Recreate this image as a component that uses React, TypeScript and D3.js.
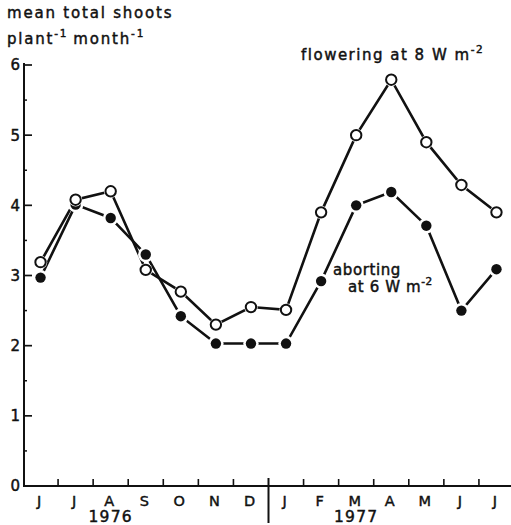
import React from "react";
import * as d3 from "d3";

const months = ["J", "J", "A", "S", "O", "N", "D", "J", "F", "M", "A", "M", "J", "J"];
const years = [
  { label: "1976", from: 0, to: 6 },
  { label: "1977", from: 7, to: 13 },
];
const flowering = [3.19, 4.08, 4.2, 3.08, 2.77, 2.3, 2.55, 2.51, 3.9, 5.0, 5.79, 4.9, 4.29, 3.9];
const aborting = [2.97, 4.01, 3.82, 3.3, 2.42, 2.03, 2.03, 2.03, 2.92, 4.0, 4.19, 3.71, 2.5, 3.09];
const yTicks = [0, 1, 2, 3, 4, 5, 6];
const yMinor = [0.5, 1.5, 2.5, 3.5, 4.5, 5.5];

const W = 511;
const H = 525;
const FONT = "DejaVu Sans, Verdana, sans-serif";

export default function App() {
  const idx = months.map((_, i) => String(i));
  const x = d3.scaleBand<string>().domain(idx).range([23, 514]).paddingInner(0).paddingOuter(0);
  const bw = x.bandwidth();
  const cx = (i: number) => (x(String(i)) as number) + bw / 2;
  const y = d3.scaleLinear().domain([0, 6]).range([486, 65]);
  const axisX = 24;
  const line = d3
    .line<number>()
    .x((_, i) => cx(i))
    .y((d) => y(d));

  const ink = "#111";
  const r = 5.2;
  const txt = { fill: ink, stroke: ink, strokeWidth: 0.45 } as const;

  return (
    <svg
      width={W}
      height={H}
      style={{ position: "absolute", left: 0, top: 0, background: "#fff" }}
      fontFamily={FONT}
    >
      <rect x={0} y={0} width={W} height={H} fill="#fff" />
      {/* y-axis title */}
      <text x={7} y={18} fontSize={15} letterSpacing={1.8} {...txt}>
        mean total shoots
      </text>
      <text x={7} y={44} fontSize={15} letterSpacing={1.8} {...txt}>
        plant
        <tspan fontSize={10.5} dy={-7}>-1</tspan>
        <tspan dy={7} dx={5}>month</tspan>
        <tspan fontSize={10.5} dy={-7}>-1</tspan>
      </text>

      {/* axes */}
      <line x1={axisX} x2={axisX} y1={y(0)} y2={y(6) - 2} stroke={ink} strokeWidth={2} />
      <line x1={axisX - 1} x2={W} y1={y(0)} y2={y(0)} stroke={ink} strokeWidth={2} />
      {yTicks.map((t) => (
        <g key={"yt" + t}>
          {t > 0 && (
            <line x1={axisX} x2={axisX + 8} y1={y(t)} y2={y(t)} stroke={ink} strokeWidth={1.7} />
          )}
          <text x={20} y={y(t)} dy="0.36em" textAnchor="end" fontSize={15} {...txt}>
            {t}
          </text>
        </g>
      ))}
      {yMinor.map((t) => (
        <line key={"ym" + t} x1={axisX} x2={axisX + 3} y1={y(t)} y2={y(t)} stroke={ink} strokeWidth={1.5} />
      ))}
      {months.slice(1).map((_, k) => {
        const i = k + 1;
        const xv = x(String(i)) as number;
        if (i === 7) {
          return <line key={"xt" + i} x1={xv} x2={xv} y1={y(0) - 8} y2={523} stroke={ink} strokeWidth={2} />;
        }
        return <line key={"xt" + i} x1={xv} x2={xv} y1={y(0)} y2={y(0) - 7} stroke={ink} strokeWidth={1.6} />;
      })}
      {months.map((m, i) => (
        <text key={"ml" + i} x={cx(i) - 1.5} y={506} textAnchor="middle" fontSize={14.5} {...txt}>
          {m}
        </text>
      ))}
      {years.map((yr) => (
        <text
          key={yr.label}
          x={cx(yr.from + 2)}
          y={522}
          textAnchor="middle"
          fontSize={15.5}
          letterSpacing={1.2}
          {...txt}
        >
          {yr.label}
        </text>
      ))}

      {/* series lines */}
      <path d={line(flowering) || ""} fill="none" stroke={ink} strokeWidth={2.6} />
      <path d={line(aborting) || ""} fill="none" stroke={ink} strokeWidth={2.6} />

      {/* markers with white halo */}
      {aborting.map((v, i) => (
        <g key={"a" + i}>
          <circle cx={cx(i)} cy={y(v)} r={r + 2.5} fill="#fff" />
          <circle cx={cx(i)} cy={y(v)} r={r} fill={ink} />
        </g>
      ))}
      {flowering.map((v, i) => (
        <g key={"f" + i}>
          <circle cx={cx(i)} cy={y(v)} r={r + 1.5} fill="#fff" />
          <circle cx={cx(i)} cy={y(v)} r={r} fill="#fff" stroke={ink} strokeWidth={2} />
        </g>
      ))}

      {/* annotations */}
      <text x={301} y={60} fontSize={15} letterSpacing={1.5} {...txt}>
        flowering at 8 W m
        <tspan fontSize={10.5} dy={-7}>-2</tspan>
      </text>
      <text x={333} y={275} fontSize={15} letterSpacing={0.6} {...txt}>
        aborting
      </text>
      <text x={348} y={292} fontSize={15} letterSpacing={0.6} {...txt}>
        at 6 W m
        <tspan fontSize={10.5} dy={-7}>-2</tspan>
      </text>
    </svg>
  );
}
